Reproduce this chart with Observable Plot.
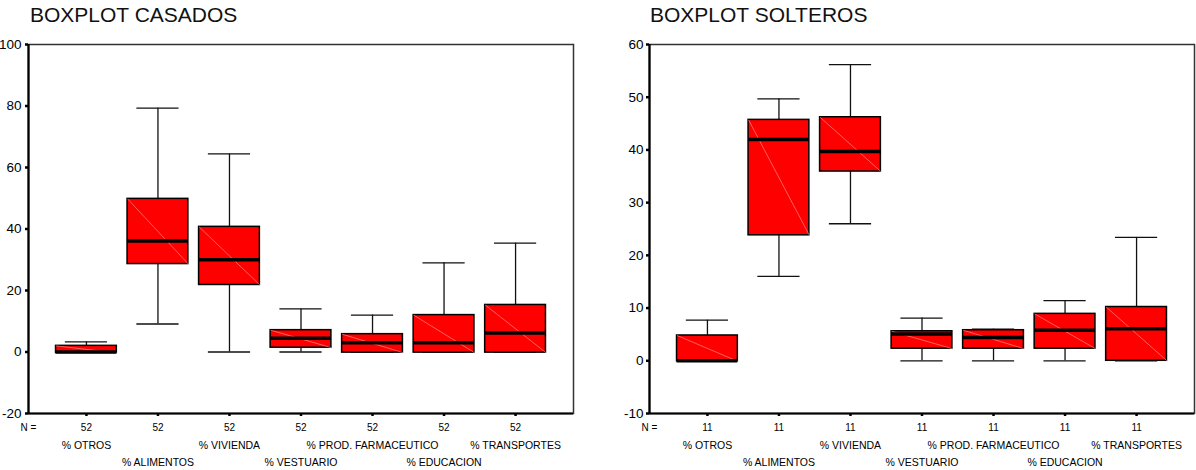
<!DOCTYPE html>
<html><head><meta charset="utf-8">
<script src="https://cdn.jsdelivr.net/npm/d3@7"></script>
<script src="https://cdn.jsdelivr.net/npm/@observablehq/plot@0.6"></script>
<style>
html,body{margin:0;padding:0;background:#fff;}
body{width:1196px;height:470px;overflow:hidden;position:relative;font-family:"Liberation Sans",Arial,sans-serif;}
.title{position:absolute;top:4px;font-size:21px;line-height:21px;color:#111;z-index:2;white-space:nowrap;}
.chart{position:absolute;top:0;}
.chart svg{max-width:none !important;}
</style></head><body>
<div class="title" style="left:30px">BOXPLOT CASADOS</div>
<div class="title" style="left:650px">BOXPLOT SOLTEROS</div>
<div id="left" class="chart" style="left:-10px;width:600px"></div>
<div id="right" class="chart" style="left:590px;width:606px"></div>
<script>
const categories = ["% OTROS","% ALIMENTOS","% VIVIENDA","% VESTUARIO","% PROD. FARMACEUTICO","% EDUCACION","% TRANSPORTES"];

const casadosN      = [52, 52, 52, 52, 52, 52, 52];
const casadosLow    = [0, 9.1, 0, 0, 0, 0, 0];
const casadosQ1     = [-0.3, 28.6, 21.8, 1.4, -0.2, -0.2, -0.2];
const casadosMedian = [0, 36.1, 30, 4.5, 3, 3, 6.2];
const casadosQ3     = [2, 49.8, 40.7, 7.1, 5.8, 12, 15.3];
const casadosHigh   = [3.3, 79.3, 64.4, 14, 12, 29, 35.4];
const casadosTicks  = [-20, 0, 20, 40, 60, 80, 100];

const solterosN      = [11, 11, 11, 11, 11, 11, 11];
const solterosLow    = [0, 16, 26, 0, 0, 0, 0];
const solterosQ1     = [-0.1, 23.8, 35.9, 2.3, 2.3, 2.3, 0];
const solterosMedian = [0, 42, 39.7, 5.1, 4.4, 5.8, 6.1];
const solterosQ3     = [4.8, 45.7, 46.2, 5.6, 5.8, 8.9, 10.2];
const solterosHigh   = [7.7, 49.7, 56.2, 8.1, 6.0, 11.4, 23.4];
const solterosTicks  = [-10, 0, 10, 20, 30, 40, 50, 60];

const PAD = 0.81, HALF_BOX = 0.425, HALF_CAP = 0.295;

function boxplot({n, low, q1, med, q3, high, ticks, width, marginLeft, marginRight, tickPadding}) {
  const rows = categories.map((c, i) => ({i, c, n: n[i], low: low[i], q1: q1[i], med: med[i], q3: q3[i], high: high[i]}));
  const ymin = ticks[0], ymax = ticks[ticks.length - 1];
  const xmin = -PAD, xmax = categories.length - 1 + PAD;
  const bx1 = d => d.i - HALF_BOX, bx2 = d => d.i + HALF_BOX;
  const cx1 = d => d.i - HALF_CAP, cx2 = d => d.i + HALF_CAP;
  return Plot.plot({
    width, height: 470, marginTop: 44, marginBottom: 57, marginLeft, marginRight,
    style: {fontFamily: '"Liberation Sans", Arial, sans-serif', background: "transparent", overflow: "visible", color: "#000"},
    x: {domain: [xmin, xmax], axis: null, label: null},
    y: {domain: [ymin, ymax], axis: null, label: null},
    marks: [
      Plot.ruleX(rows, {x: "i", y1: "q3", y2: "high", stroke: "#111", strokeWidth: 1.3}),
      Plot.ruleX(rows, {x: "i", y1: "low", y2: "q1", stroke: "#111", strokeWidth: 1.3}),
      Plot.ruleY(rows, {y: "high", x1: cx1, x2: cx2, stroke: "#111", strokeWidth: 1.3}),
      Plot.ruleY(rows, {y: "low", x1: cx1, x2: cx2, stroke: "#111", strokeWidth: 1.3}),
      Plot.rect(rows, {x1: bx1, x2: bx2, y1: "q1", y2: "q3", fill: "#ff0000", stroke: "#000", strokeWidth: 1.5}),
      Plot.link(rows, {x1: bx1, y1: "q3", x2: bx2, y2: "q1", stroke: "#ffa0a0", strokeWidth: 0.6}),
      Plot.ruleY(rows, {y: "med", x1: bx1, x2: bx2, stroke: "#000", strokeWidth: 3.5}),
      Plot.frame({stroke: "#333", strokeWidth: 1.5}),
      Plot.ruleX([xmin], {stroke: "#000", strokeWidth: 2.2}),
      Plot.ruleY([ymin], {stroke: "#000", strokeWidth: 2.2}),
      Plot.axisY({ticks, anchor: "left", label: null, tickSize: 3, tickPadding, strokeWidth: 2.5, fontSize: 13.5, tickFormat: d => String(d)}),
      Plot.axisX({ticks: rows.map(d => d.i), anchor: "bottom", label: null, tickSize: 3, strokeWidth: 2.5, tickFormat: () => ""}),
      Plot.text(rows, {x: "i", y: ymin, text: d => String(d.n), dy: 14, fontSize: 10}),
      Plot.text(["N ="], {x: xmin, y: ymin, text: d => d, dy: 14, fontSize: 10}),
      Plot.text(rows.filter(d => d.i % 2 === 0), {x: "i", y: ymin, text: "c", dy: 32, fontSize: 10.5}),
      Plot.text(rows.filter(d => d.i % 2 === 1), {x: "i", y: ymin, text: "c", dy: 49, fontSize: 10.5})
    ]
  });
}

document.getElementById("left").append(boxplot({
  n: casadosN, low: casadosLow, q1: casadosQ1, med: casadosMedian, q3: casadosQ3, high: casadosHigh,
  ticks: casadosTicks, width: 600, marginLeft: 38, marginRight: 17, tickPadding: 4
}));
document.getElementById("right").append(boxplot({
  n: solterosN, low: solterosLow, q1: solterosQ1, med: solterosMedian, q3: solterosQ3, high: solterosHigh,
  ticks: solterosTicks, width: 606, marginLeft: 59, marginRight: 2, tickPadding: 3
}));
</script>
</body></html>
